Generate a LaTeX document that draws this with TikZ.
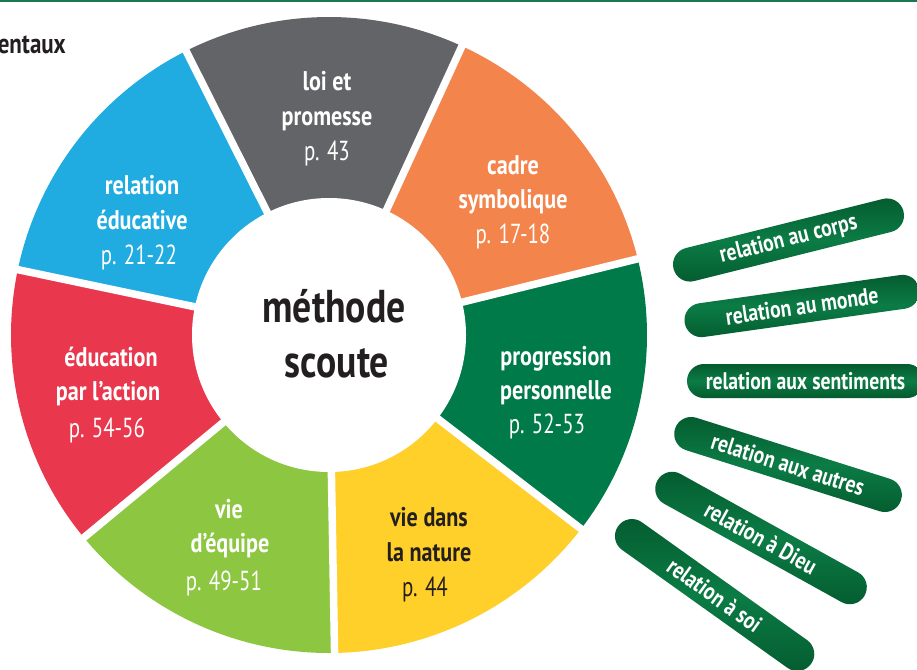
\documentclass[tikz,border=0pt]{standalone}
\usepackage{fontspec}
\newfontfamily\cf[FakeStretch=0.82]{PT Sans}
\newfontfamily\cfr[FakeStretch=0.76]{PT Sans}
\definecolor{sgray}{HTML}{636467}
\definecolor{sblue}{HTML}{20ABE1}
\definecolor{sorange}{HTML}{F3844B}
\definecolor{sgreen}{HTML}{007A49}
\definecolor{syellow}{HTML}{FFCF2A}
\definecolor{slime}{HTML}{8DC640}
\definecolor{sred}{HTML}{E9384D}
\definecolor{sdark}{HTML}{231F20}
\definecolor{pilldark}{HTML}{045A2E}
\definecolor{pilllight}{HTML}{0B7C45}
\definecolor{topgreen}{HTML}{1B7A4B}
\begin{document}
\begin{tikzpicture}[x=1pt,y=1pt,
  lab/.style={anchor=base, inner sep=0, text=white, font=\cf\bfseries\fontsize{27}{30}\selectfont},
  labr/.style={anchor=base, inner sep=0, text=white, font=\cfr\fontsize{27.5}{30}\selectfont},
  ctr/.style={anchor=base, inner sep=0, text=sdark, font=\cf\bfseries\fontsize{46}{50}\selectfont},
  pill/.style={rectangle, rounded corners=16.9pt, minimum width=237pt, minimum height=34pt, inner sep=0,
    top color=pilldark, bottom color=pilldark, middle color=pilllight, text=white,
    font=\cf\bfseries\fontsize{24}{26}\selectfont},
  gapline/.style={white, line width=7.5pt}
]
\useasboundingbox (0,0) rectangle (917,-669);
\clip (0,0) rectangle (917,-669);
\fill[white] (0,0) rectangle (917,-669);
\fill[topgreen] (0,0) rectangle (917,-2.5);
\node[anchor=base east, inner sep=0, text=sdark, font=\cf\bfseries\fontsize{28}{30}\selectfont] (title) at (66,-54) {entaux};
\coordinate (C) at (329,-335);
\foreach \a/\b/\c in {-89/-37.57/syellow, -37.57/13.86/sgreen, 13.86/65.29/sorange, 65.29/116.71/sgray, 116.71/168.14/sblue, 168.14/219.57/sred, 219.57/271/slime}
  \fill[\c] (C) -- ++(\a:318pt) arc[start angle=\a, end angle=\b, radius=318pt] -- cycle;
\foreach \a in {-89,-37.57,13.86,65.29,116.71,168.14,219.57}
  \draw[gapline] (C) -- ++(\a:330pt);
\fill[white] (C) circle[radius=137pt];
% centre
\node[ctr] (m1) at (334,-322) {méthode};
\node[ctr] (m2) at (337,-377) {scoute};
% gray
\node[lab] (g1) at (327,-90) {loi et};
\node[lab] (g2) at (327,-125) {promesse};
\node[labr] (g3) at (327,-160) {p. 43};
% blue
\node[lab] (b1) at (142,-194) {relation};
\node[lab] (b2) at (142,-229) {éducative};
\node[labr] (b3) at (139,-264) {p. 21-22};
% orange
\node[lab] (o1) at (513,-174) {cadre};
\node[lab] (o2) at (513,-208) {symbolique};
\node[labr] (o3) at (513,-243) {p. 17-18};
% green
\node[lab] (v1) at (556,-365) {progression};
\node[lab] (v2) at (556,-399) {personnelle};
\node[labr] (v3) at (547,-433) {p. 52-53};
% yellow
\node[lab, text=sdark] (y1) at (429,-526) {vie dans};
\node[lab, text=sdark] (y2) at (429,-561) {la nature};
\node[labr, text=sdark] (y3) at (425,-596) {p. 44};
% lime
\node[lab] (l1) at (229,-518) {vie};
\node[lab] (l2) at (230,-552) {d’équipe};
\node[labr] (l3) at (224,-590) {p. 49-51};
% red
\node[lab] (r1) at (111,-366) {éducation};
\node[lab] (r2) at (108,-400) {par l’action};
\node[labr] (r3) at (107,-437) {p. 54-56};
% pills
\node[pill, rotate=14] (p1) at (788.5,-240) {relation au corps};
\node[pill, rotate=8] (p2) at (802,-306) {relation au monde};
\node[pill] (p3) at (805.5,-381) {relation aux sentiments};
\node[pill, rotate=-17.5] (p4) at (788,-464.5) {relation aux autres};
\node[pill, rotate=-29] (p5) at (761,-538) {relation à Dieu};
\node[pill, rotate=-35.5] (p6) at (714.6,-595) {relation à soi};
\end{tikzpicture}
\end{document}
